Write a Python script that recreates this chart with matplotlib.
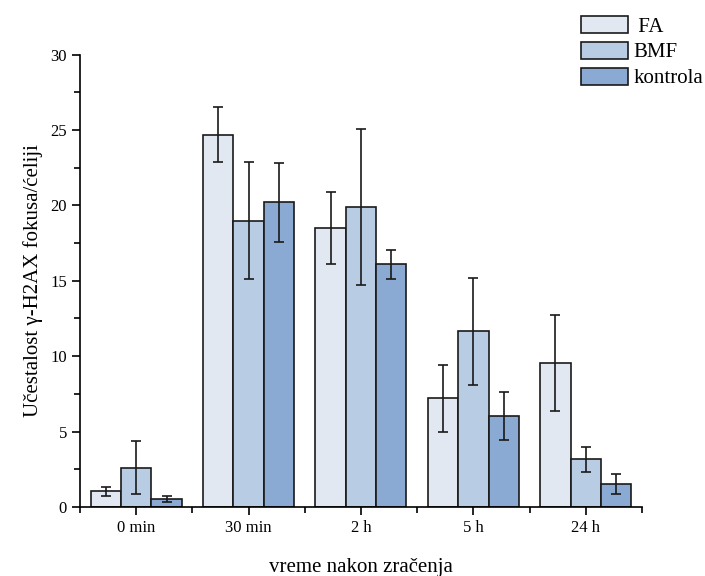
import numpy as np
import matplotlib.pyplot as plt
from matplotlib.ticker import MultipleLocator

plt.rcParams['font.family'] = ['Liberation Serif', 'DejaVu Serif']

categories = ['0 min', '30 min', '2 h', '5 h', '24 h']
series = [' FA', 'BMF', 'kontrola']
fa = [1.05, 24.7, 18.5, 7.2, 9.55]
fa_err = [0.3, 1.8, 2.4, 2.2, 3.2]
bmf = [2.6, 19.0, 19.9, 11.65, 3.15]
bmf_err = [1.75, 3.85, 5.2, 3.55, 0.85]
kontrola = [0.55, 20.2, 16.1, 6.05, 1.5]
kontrola_err = [0.2, 2.6, 0.95, 1.6, 0.65]

colors = ['#E1E8F2', '#B8CCE4', '#8AA9D3']

fig = plt.figure(figsize=(7.05, 5.76), dpi=100)
ax = fig.add_axes([0.1135, 0.12, 0.797, 0.785])

x = np.arange(len(categories))
w = 0.27
for i, (vals, errs) in enumerate([(fa, fa_err), (bmf, bmf_err), (kontrola, kontrola_err)]):
    ax.bar(x + (i - 1) * w, vals, w, color=colors[i], edgecolor='#1a1a1a',
           linewidth=1.2, label=series[i], zorder=2)
    ax.errorbar(x + (i - 1) * w, vals, yerr=errs, fmt='none', ecolor='#1a1a1a',
                elinewidth=1.2, capsize=3.8, capthick=1.2, zorder=3)

ax.set_xlim(-0.5, 4.5)
ax.set_ylim(0, 30)
ax.set_xticks(x)
ax.set_xticklabels(categories, fontsize=12)
ax.set_xticks(np.arange(-0.5, 5, 1), minor=True)
ax.yaxis.set_major_locator(MultipleLocator(5))
ax.yaxis.set_minor_locator(MultipleLocator(2.5))
ax.tick_params(axis='y', labelsize=12)
ax.tick_params(which='major', direction='out', length=6, width=1.2)
ax.tick_params(which='minor', direction='out', length=4, width=1.2)
for s in ['top', 'right']:
    ax.spines[s].set_visible(False)
for s in ['left', 'bottom']:
    ax.spines[s].set_linewidth(1.2)

ax.set_xlabel('vreme nakon zračenja', fontsize=15, labelpad=16)
ax.set_ylabel('Učestalost γ-H2AX fokusa/ćeliji', fontsize=15, labelpad=5)

fig.legend(loc='upper right', bbox_to_anchor=(1.0, 0.976), frameon=False,
           fontsize=15, handlelength=2.25, handleheight=0.87, handletextpad=0.25,
           labelspacing=0.25, borderaxespad=0.0, borderpad=0.1)

fig.savefig('out.png', dpi=100)
